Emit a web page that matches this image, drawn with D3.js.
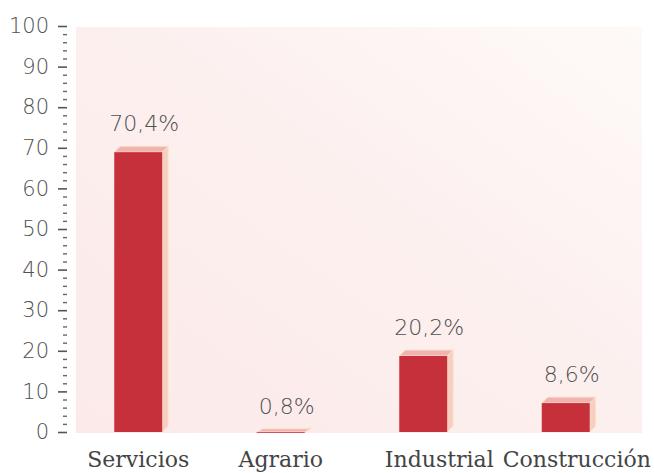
<!DOCTYPE html>
<html>
<head>
<meta charset="utf-8">
<script src="https://cdn.jsdelivr.net/npm/d3@7"></script>
<style>
  html, body { margin: 0; padding: 0; background: #ffffff; }
  svg { display: block; }
  .num { font-family: "DejaVu Sans", "Lato", sans-serif; font-weight: 200; fill: #505050; }
  .cat { font-family: "DejaVu Serif", "Liberation Serif", serif; fill: #444444; }
</style>
</head>
<body>
<svg id="chart" width="654" height="473"></svg>
<script>
// Distribución por sectores (%)
const categories = ["Servicios", "Agrario", "Industrial", "Construcción"];
const values = [70.4, 0.8, 20.2, 8.6];
const valueLabels = ["70,4%", "0,8%", "20,2%", "8,6%"];
const yTicks = [0, 10, 20, 30, 40, 50, 60, 70, 80, 90, 100];

const svg = d3.select("#chart");

const y = d3.scaleLinear().domain([0, 100]).range([432, 26]);
const x = d3.scaleBand().domain(categories).range([67, 637]);

const defs = svg.append("defs");
const bg = defs.append("linearGradient").attr("id", "panelBg")
  .attr("x1", "0%").attr("y1", "100%").attr("x2", "100%").attr("y2", "0%");
bg.append("stop").attr("offset", "0%").attr("stop-color", "#fbeae9");
bg.append("stop").attr("offset", "55%").attr("stop-color", "#fcf0ef");
bg.append("stop").attr("offset", "100%").attr("stop-color", "#fefaf8");

// plot panel
svg.append("rect")
  .attr("x", 76).attr("y", y(100) + 1)
  .attr("width", 566).attr("height", y(0) - y(100))
  .attr("fill", "url(#panelBg)");

// y axis: major ticks with labels, minor ticks every 2
const axisX = 67;
const yAxis = d3.axisLeft(y).tickValues(yTicks).tickSize(9).tickPadding(9)
  .tickFormat(d3.format("d"));
const gAxis = svg.append("g").attr("transform", `translate(${axisX},0)`).call(yAxis);
gAxis.select(".domain").remove();
gAxis.selectAll(".tick line").attr("stroke", "#555").attr("stroke-width", 1.6);
gAxis.selectAll(".tick text").attr("class", "num").attr("font-size", 21)
  .attr("fill", "#505050");

const minor = d3.range(0, 101, 2).filter(v => v % 10 !== 0);
const minorAxis = d3.axisLeft(y).tickValues(minor).tickSize(4).tickFormat("");
const gMinor = svg.append("g").attr("transform", `translate(${axisX},0)`).call(minorAxis);
gMinor.select(".domain").remove();
gMinor.selectAll(".tick line").attr("stroke", "#666").attr("stroke-width", 1.4);

// category labels on the right side are nudged to fit the wide words
const labelShift = { "Industrial": 16, "Construcción": 11 };

// 3D bars
const barW = 48, dx = 6, dy = 6;
const base = y(0);
const bars = svg.append("g");
categories.forEach((c, i) => {
  const v = values[i];
  const cx = x(c) + x.bandwidth() / 2;
  const x0 = cx - barW / 2;
  const yBack = y(v);
  const yFront = Math.min(yBack + dy, base);
  const g = bars.append("g");
  // side face
  g.append("path")
    .attr("d", `M${x0 + barW},${yFront} L${x0 + barW + dx},${yBack} L${x0 + barW + dx},${base - dy} L${x0 + barW},${base} Z`)
    .attr("fill", "#f6cfc0").attr("stroke", "#fbe6cc").attr("stroke-width", 1);
  // top face
  g.append("path")
    .attr("d", `M${x0},${yFront} L${x0 + dx},${yBack} L${x0 + barW + dx},${yBack} L${x0 + barW},${yFront} Z`)
    .attr("fill", "#f1b3ac").attr("stroke", "#fbe3d6").attr("stroke-width", 1);
  // front face
  g.append("rect")
    .attr("x", x0).attr("y", yFront)
    .attr("width", barW).attr("height", Math.max(base - yFront, 0.8))
    .attr("fill", "#c6303a");
  // value label
  svg.append("text").attr("class", "num")
    .attr("x", cx + 6).attr("y", yBack - 15)
    .attr("text-anchor", "middle").attr("font-size", 22)
    .text(valueLabels[i]);
  // category label
  svg.append("text").attr("class", "cat")
    .attr("x", cx + (labelShift[c] || 0)).attr("y", 467)
    .attr("text-anchor", "middle").attr("font-size", 22)
    .text(c);
});
</script>
</body>
</html>
